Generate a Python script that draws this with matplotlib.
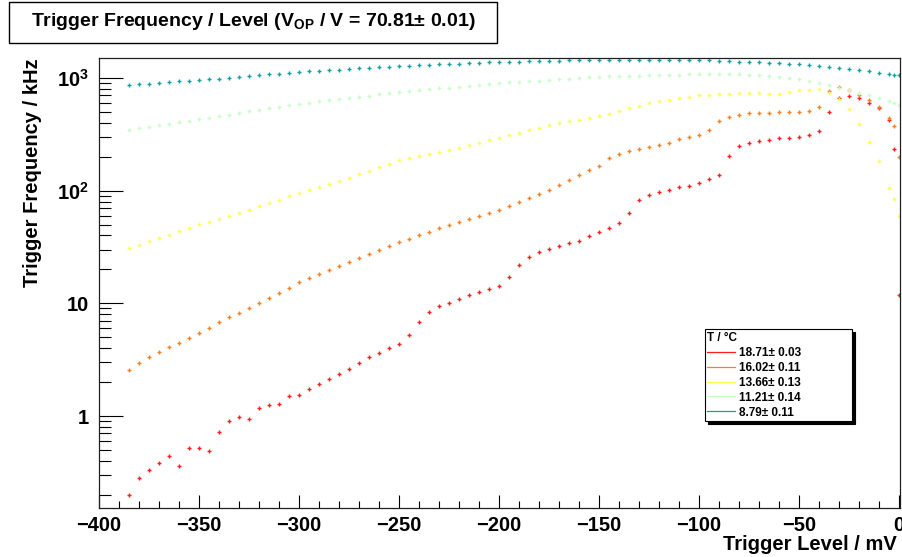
import matplotlib
matplotlib.use('Agg')
import matplotlib.pyplot as plt
from matplotlib.patches import Rectangle
from matplotlib.lines import Line2D
from matplotlib.ticker import LogLocator, NullFormatter, FixedLocator, FixedFormatter, MultipleLocator

plt.rcParams['font.family'] = ['Liberation Sans', 'DejaVu Sans']
plt.rcParams['font.weight'] = 'bold'
plt.rcParams['mathtext.fontset'] = 'custom'
plt.rcParams['mathtext.rm'] = 'Liberation Sans:bold'
plt.rcParams['mathtext.bf'] = 'Liberation Sans:bold'

# trigger level / mV
level_mv = [-385, -380, -375, -370, -365, -360, -355, -350, -345, -340,
            -335, -330, -325, -320, -315, -310, -305, -300, -295, -290,
            -285, -280, -275, -270, -265, -260, -255, -250, -245, -240,
            -235, -230, -225, -220, -215, -210, -205, -200, -195, -190,
            -185, -180, -175, -170, -165, -160, -155, -150, -145, -140,
            -135, -130, -125, -120, -115, -110, -105, -100, -95, -90,
            -85, -80, -75, -70, -65, -60, -55, -50, -45, -40,
            -35, -30, -25, -20, -15, -10, -5, -2.5, 0]

# trigger frequency / kHz for each temperature
freq_1871 = [0.20, 0.28, 0.33, 0.38, 0.44, 0.36, 0.52, 0.52, 0.49, 0.72,
             0.90, 0.98, 0.94, 1.18, 1.25, 1.28, 1.52, 1.55, 1.72, 1.91,
             2.14, 2.34, 2.63, 2.95, 3.31, 3.63, 3.98, 4.37, 5.2, 6.8,
             8.3, 9.5, 10.1, 11.0, 11.8, 12.5, 13.3, 14.3, 17.0, 22.0,
             26.0, 28.6, 30.2, 32.2, 34.5, 35.5, 39.5, 43, 46.5, 51.5,
             63, 83, 91, 98, 102, 107, 111, 117, 126, 138,
             204, 251, 266, 275, 282, 292, 295, 299, 309, 339,
             501, 661, 692, 661, 603, 537, 427, 234, 11.8]
freq_1602 = [2.56, 2.95, 3.33, 3.67, 4.06, 4.47, 4.94, 5.47, 6.03, 6.82,
             7.52, 8.28, 9.12, 10.1, 11.2, 12.4, 13.8, 15.5, 16.7, 18.2,
             19.7, 21.4, 23.2, 25.1, 27.4, 29.6, 32.2, 35.0, 37.5, 40.2,
             43.1, 46.2, 49.5, 52.7, 56.0, 59.6, 63.2, 67.3, 72.9, 79.4,
             86.1, 93.3, 101, 112, 124, 138, 151, 167, 194, 210,
             224, 234, 244, 254, 266, 285, 299, 311, 343, 417,
             452, 468, 489, 489, 491, 495, 498, 498, 513, 556,
             759, 826, 785, 708, 631, 550, 437, 372, 200]
freq_1366 = [31.0, 33.1, 35.5, 38.0, 40.7, 43.6, 46.8, 50.1, 53.1, 56.0,
             59.7, 63.7, 67.9, 72.4, 77.6, 83.2, 89.1, 95.3, 101, 108,
             114, 122, 129, 140, 150, 162, 174, 187, 195, 203,
             211, 220, 229, 240, 253, 265, 279, 293, 309, 326,
             344, 362, 382, 396, 411, 427, 442, 457, 482, 509,
             537, 568, 598, 618, 638, 661, 682, 705, 711, 716,
             723, 728, 735, 728, 721, 719, 750, 782, 789, 794,
             741, 646, 525, 389, 269, 182, 105, 85, 59]
freq_1121 = [345, 356, 367, 379, 392, 404, 417, 431, 444, 458,
             473, 488, 504, 520, 536, 553, 571, 589, 604, 618,
             634, 649, 665, 681, 698, 715, 733, 750, 764, 778,
             793, 807, 822, 838, 853, 869, 885, 901, 914, 925,
             938, 948, 962, 973, 986, 998, 1012, 1023, 1030, 1035,
             1042, 1047, 1054, 1059, 1066, 1072, 1079, 1084, 1086, 1086,
             1084, 1079, 1072, 1057, 1038, 1018, 1000, 977, 938, 897,
             859, 820, 782, 741, 701, 661, 619, 597, 575]
freq_879 = [865, 878, 890, 903, 916, 930, 944, 958, 973, 988,
            1005, 1020, 1040, 1055, 1073, 1090, 1108, 1126, 1140, 1155,
            1170, 1185, 1200, 1215, 1230, 1245, 1260, 1275, 1287, 1298,
            1310, 1320, 1332, 1342, 1352, 1363, 1373, 1384, 1390, 1397,
            1403, 1410, 1416, 1422, 1428, 1434, 1438, 1442, 1444, 1446,
            1447, 1447, 1446, 1445, 1444, 1443, 1442, 1440, 1430, 1420,
            1408, 1396, 1384, 1372, 1360, 1350, 1340, 1328, 1305, 1280,
            1255, 1228, 1199, 1170, 1140, 1110, 1085, 1072, 1061]

labels = ["18.71± 0.03", "16.02± 0.11", "13.66± 0.13", "11.21± 0.14", "8.79± 0.11"]
series = [freq_1871, freq_1602, freq_1366, freq_1121, freq_879]
colors = ["#ff1e1e", "#ff7f1e", "#ffff50", "#c8ffc8", "#14a0a0"]

W, H = 902, 557
fig = plt.figure(figsize=(W / 100, H / 100), dpi=100)
fig.patch.set_facecolor("white")
ax = fig.add_axes([99 / W, 49 / H, 801 / W, 450 / H])

for vals, col in zip(series, colors):
  ax.plot(level_mv, vals, linestyle='none', marker='+', ms=3.5, mew=1.0, color=col)

ax.set_yscale('log')
ax.set_xlim(-400, 0.5)
ax.set_ylim(0.1527, 1502)

ax.xaxis.set_major_locator(MultipleLocator(50))
ax.xaxis.set_minor_locator(MultipleLocator(10))
ax.yaxis.set_major_locator(FixedLocator([1, 10, 100, 1000]))
ax.yaxis.set_major_formatter(FixedFormatter(["1", "10", r"$\mathbf{10^{2}}$", r"$\mathbf{10^{3}}$"]))
ax.yaxis.set_minor_locator(LogLocator(base=10, subs=range(2, 10)))
ax.yaxis.set_minor_formatter(NullFormatter())

ax.tick_params(axis='x', which='major', direction='in', length=9.4, width=0.8, pad=6, labelsize=14.5)
ax.tick_params(axis='x', which='minor', direction='in', length=5, width=0.8)
ax.tick_params(axis='y', which='major', direction='in', length=17, width=0.8, pad=7, labelsize=14.5)
ax.tick_params(axis='y', which='minor', direction='in', length=8.6, width=0.8)
for s in ax.spines.values():
  s.set_linewidth(0.9)
  s.set_color("#202020")

fig.text(897 / W, 1 - 544 / H, "Trigger Level / mV", ha='right', va='center', fontsize=14.5, fontweight='bold')
fig.text(33 / W, 1 - 58 / H, "Trigger Frequency / kHz", ha='center', va='top', rotation=90,
         fontsize=14.5, fontweight='bold')

# title box
fig.patches.append(Rectangle((9 / W, 1 - 43 / H), 488 / W, 41 / H, transform=fig.transFigure,
                             facecolor='white', edgecolor='black', linewidth=1.0, zorder=3))
fig.text(253 / W, 1 - 22 / H, r"Trigger Frequency / Level (V$_{\mathbf{OP}}$ / V = 70.81± 0.01)",
         ha='center', va='center', fontsize=14, fontweight='bold', zorder=4)

# legend
handles = [Line2D([], [], color=c, lw=0.9) for c in colors]
leg = ax.legend(handles, labels, title="T / °C", loc='upper left',
                bbox_to_anchor=(705 / W, 1 - 335 / H, 147 / W, 0.01), bbox_transform=fig.transFigure,
                mode='expand', borderaxespad=0, fontsize=8.5, title_fontsize=8.5, alignment='left',
                handlelength=2.3, handletextpad=0.4, labelspacing=0.25, borderpad=0.2,
                fancybox=False, framealpha=1, edgecolor='black',
                shadow={'color': 'black', 'alpha': 1})
leg.get_frame().set_linewidth(0.8)
for t in leg.get_texts():
  t.set_fontweight('bold')
leg.get_title().set_fontweight('bold')

fig.savefig("out.png", dpi=100)
